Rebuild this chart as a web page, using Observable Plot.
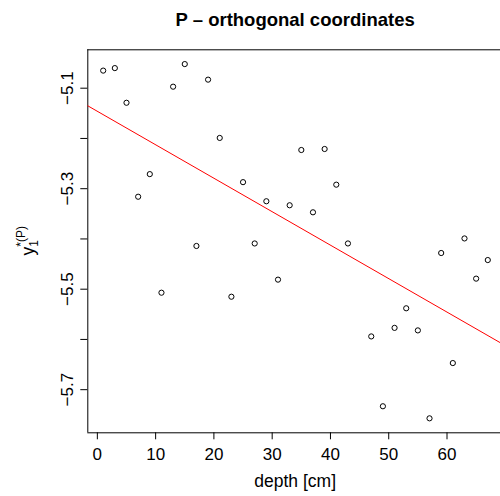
<!DOCTYPE html>
<html>
<head>
<meta charset="utf-8">
<script src="https://cdn.jsdelivr.net/npm/d3@7"></script>
<script src="https://cdn.jsdelivr.net/npm/@observablehq/plot@0.6"></script>
<style>
  html, body { margin: 0; padding: 0; background: #fff; overflow: hidden; }
  #chart { width: 500px; height: 496px; overflow: hidden; }
</style>
</head>
<body>
<div id="chart"></div>
<script>
// ---- data ----
const depth = [1, 3, 5, 7, 9, 11, 13, 15, 17, 19, 21, 23, 25, 27, 29, 31, 33,
               35, 37, 39, 41, 43, 47, 49, 51, 53, 55, 57, 59, 61, 63, 65, 67];
const yValue = [-5.065, -5.060, -5.129, -5.316, -5.271, -5.507, -5.097, -5.052,
                -5.414, -5.083, -5.199, -5.515, -5.287, -5.409, -5.325, -5.481,
                -5.333, -5.223, -5.347, -5.221, -5.292, -5.409, -5.594, -5.733,
                -5.577, -5.538, -5.582, -5.757, -5.428, -5.647, -5.399, -5.479, -5.442];
const fitIntercept = -5.146;
const fitSlope = -0.00666;
const xTicks = [0, 10, 20, 30, 40, 50, 60];
const yTicks = [-5.7, -5.6, -5.5, -5.4, -5.3, -5.2, -5.1];
const yTickLabels = ["−5.7", "", "−5.5", "", "−5.3", "", "−5.1"];
const titleText = "P – orthogonal coordinates";
const xLabelText = "depth [cm]";

const xDomain = [-1.64, 69.18];
const yDomain = [-5.7858, -5.0236];

const points = depth.map((d, i) => ({depth: d, value: yValue[i]}));
const fitLine = xDomain.map(d => ({depth: d, value: fitIntercept + fitSlope * d}));

const W = 500, H = 496;
const mL = 87.3, mT = 49.3, mB = 63.7, mR = 0;

const plot = Plot.plot({
  width: W,
  height: H,
  marginLeft: mL,
  marginRight: mR,
  marginTop: mT,
  marginBottom: mB,
  style: {fontFamily: "'Liberation Sans', Arial, sans-serif", fontSize: "17px", color: "black", background: "white", overflow: "visible"},
  x: {domain: xDomain, ticks: xTicks, tickSize: 7, tickPadding: 8, label: null, tickFormat: d => String(d)},
  y: {domain: yDomain, ticks: yTicks, tickSize: 7, tickPadding: 8, tickRotate: -90, label: null,
      tickFormat: d => yTickLabels[yTicks.findIndex(t => Math.abs(t - d) < 1e-9)] ?? ""},
  marks: [
    Plot.ruleY([yDomain[0], yDomain[1]], {stroke: "black", strokeWidth: 1}),
    Plot.ruleX([xDomain[0]], {stroke: "black", strokeWidth: 1}),
    Plot.line(fitLine, {x: "depth", y: "value", stroke: "red", strokeWidth: 1}),
    Plot.dot(points, {x: "depth", y: "value", r: 2.6, stroke: "black", strokeWidth: 1, fill: "none"})
  ]
});

document.getElementById("chart").appendChild(plot);

const svg = d3.select(plot);
const cx = mL + (W + 3 - mL) / 2;  // centre of the plotting region

svg.append("text")
  .attr("x", cx).attr("y", 26)
  .attr("text-anchor", "middle")
  .style("font-weight", "bold")
  .style("font-size", "18.5px")
  .attr("fill", "black")
  .text(titleText);

svg.append("text")
  .attr("x", cx).attr("y", 487)
  .attr("text-anchor", "middle")
  .style("font-size", "17.5px")
  .attr("fill", "black")
  .text(xLabelText);

const yl = svg.append("text")
  .attr("transform", `translate(34, ${mT + (H - mT - mB) / 2}) rotate(-90)`)
  .attr("text-anchor", "middle")
  .style("font-size", "17.5px")
  .attr("fill", "black");
yl.append("tspan").text("y");
yl.append("tspan").attr("dy", "4").style("font-size", "12px").text("1");
yl.append("tspan").attr("dx", "-6.7").attr("dy", "-13").style("font-size", "12px").text("*(P)");
</script>
</body>
</html>
